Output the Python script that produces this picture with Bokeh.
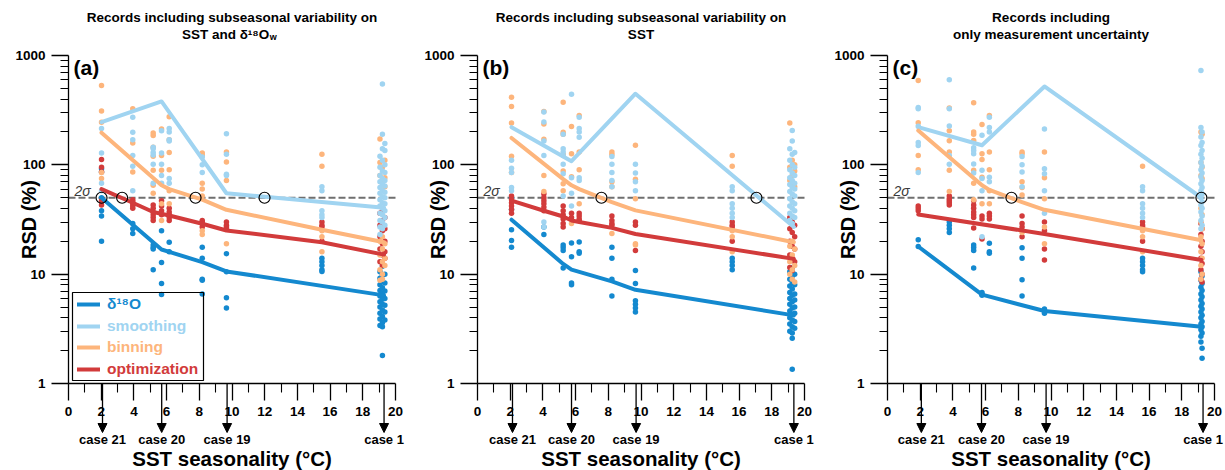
import math
from bokeh.plotting import figure
from bokeh.layouts import row
from bokeh.models import (Range1d, FixedTicker, NumeralTickFormatter, LinearAxis, LogAxis,
                          ColumnDataSource, Label, LabelSet, Arrow, NormalHead,
                          Legend, LegendItem, BoxAnnotation)
from bokeh.core.properties import value
from bokeh.embed import file_html
from bokeh.resources import INLINE

FONT = "Liberation Sans"

# ---------------- shared ticks / labels ----------------
X_TICKS = [0, 2, 4, 6, 8, 10, 12, 14, 16, 18, 20]
X_MINOR = [1, 3, 5, 7, 9, 11, 13, 15, 17, 19]
Y_TICKS = [1, 10, 100, 1000]
Y_MINOR = [2, 3, 4, 5, 6, 7, 8, 9, 20, 30, 40, 50, 60, 70, 80, 90,
           200, 300, 400, 500, 600, 700, 800, 900]
SERIES = ["δ¹⁸O", "smoothing", "binning", "optimization"]
CASE_LABELS = ["case 21", "case 20", "case 19", "case 1"]
TWO_SIGMA = 50

# ---------------- panel (a) ----------------
A_D18O = [(2.02, [92, 86, 50, 38, 34, 20]), (3.93, [29, 26, 23.5]),
          (5.18, [18.5, 17.5, 17, 11]), (5.69, [25, 12.8, 8.2, 6.5]),
          (6.16, [19.6, 16]), (8.18, [17.6, 14, 9, 8.8, 6.6]),
          (9.66, [15.4, 10.5, 6.1, 4.9]), (15.5, [14, 13, 12, 11, 10.6]),
          (19.05, [10.5, 9.2, 8.0, 7.1, 6.3, 5.6, 5.0, 4.4, 3.9, 3.4]),
          (19.2, [11.8, 9.8, 8.6, 7.5, 6.7, 5.9, 5.3, 4.7, 4.1, 3.6, 3.3, 1.8]),
          (19.35, [10.0, 8.3, 7.0, 6.0, 5.2, 4.5, 3.8])]
A_SMOOTH = [(2.02, [215, 128, 68, 58]), (3.93, [273, 199, 170, 122, 97, 58]),
            (5.18, [145, 140, 130, 123, 101, 68]), (5.69, [205, 128, 101, 80, 68]),
            (6.16, [215, 200, 170, 165, 75, 68]), (8.18, [118, 100, 85]),
            (9.66, [192, 125, 82, 80]), (15.5, [63, 58, 38, 35, 33]),
            (19.05, [120, 95, 80, 70, 62, 55, 48, 42, 36, 31, 27, 23]),
            (19.2, [550, 190, 140, 110, 88, 75, 66, 58, 51, 45, 40, 35, 30, 26]),
            (19.35, [157, 135, 100, 85, 72, 64, 56, 50, 44, 38, 33, 28])]
A_BIN = [(2.02, [532, 310, 245, 85, 75]), (3.93, [326, 158, 86]),
         (5.18, [195, 185, 145, 120, 89, 65, 55]), (5.69, [213, 122, 89, 44, 31]),
         (6.16, [276, 170, 130, 90, 58, 44]), (8.18, [128, 122, 68, 60, 52, 25, 23]),
         (9.66, [131, 106, 72, 19]), (15.5, [125, 97, 25, 22, 16]),
         (19.05, [172, 105, 80, 20, 15, 11, 8.8]),
         (19.2, [95, 70, 22, 17, 13, 10, 9]),
         (19.35, [110, 76, 63, 19, 14, 12])]
A_OPT = [(2.02, [112, 95, 86, 47, 43]), (3.93, [48, 46, 44, 42, 40]),
         (5.18, [43, 40, 37, 35, 33, 31]), (5.69, [47, 42, 38, 35]),
         (6.16, [40, 37, 35, 33, 31]), (8.18, [31, 30, 29, 27]),
         (9.66, [30, 28, 27, 26]), (15.5, [30, 28, 27, 20]),
         (19.05, [36, 28, 22, 17, 13]), (19.2, [38, 31, 25, 19, 15, 12]),
         (19.35, [33, 26, 20, 16, 14])]
A_LINE_D18O_X = [2.02, 5.69, 6.16, 8.18, 9.66, 19.3]
A_LINE_D18O_Y = [50, 16.8, 16, 12.9, 10.6, 6.4]
A_LINE_SMOOTH_X = [2.02, 5.69, 9.66, 19.3]
A_LINE_SMOOTH_Y = [246, 380, 55, 40.5]
A_LINE_BIN_X = [2.02, 5.69, 6.16, 8.18, 9.66, 15.5, 19.3]
A_LINE_BIN_Y = [197, 65, 60, 48, 38.8, 25.5, 19.6]
A_LINE_OPT_X = [2.02, 3.93, 5.18, 6.16, 8.18, 9.66, 15.5, 19.3]
A_LINE_OPT_Y = [60, 45, 37, 34.4, 28.9, 25.1, 19.6, 15.1]
A_CIRCLE_X = [2.02, 3.28, 7.77, 11.99]
A_CIRCLE_Y = [50, 50, 50, 50]
A_CASE_X = [2.08, 5.7, 9.7, 19.3]

# ---------------- panel (b) ----------------
B_D18O = [(2.08, [50, 39, 25.5, 20.3, 17.6]), (4.06, [27, 23]),
          (5.24, [18.5, 17.5, 16.5, 11.4]), (5.75, [19.3, 14.4, 8.3, 8.0]),
          (6.22, [19.7, 16, 15.5]), (8.22, [17.6, 14, 9, 6.3]),
          (9.66, [10.8, 8.2, 5.7, 5.3, 4.9, 4.5]), (15.58, [14, 13, 12, 11]),
          (19.1, [10.5, 9.0, 7.8, 6.8, 6.0, 5.3, 4.6, 4.0, 3.5, 3.0]),
          (19.25, [11.5, 9.6, 8.4, 7.3, 6.4, 5.6, 4.9, 4.3, 3.8, 3.3, 2.9, 2.6, 1.35]),
          (19.4, [10.0, 8.0, 6.6, 5.8, 5.0, 4.4, 3.7, 3.2])]
B_SMOOTH = [(2.08, [110, 93, 85, 62, 58]), (4.06, [304, 246, 165, 122, 30, 27]),
            (5.24, [190, 140, 131, 122, 101, 83, 52]), (5.75, [441, 76, 55, 42]),
            (6.22, [273, 215, 200, 179, 76, 72]), (8.22, [119, 101, 85, 72, 63]),
            (9.66, [101, 84, 70, 58]), (15.58, [63, 58, 44, 40, 36, 33]),
            (19.1, [140, 110, 90, 76, 66, 57, 49, 42, 36, 31]),
            (19.25, [206, 165, 125, 100, 84, 72, 62, 54, 46, 40, 34, 29]),
            (19.4, [130, 95, 80, 68, 60, 52, 44, 38, 33])]
B_BIN = [(2.08, [416, 342, 241, 120, 85]), (4.06, [308, 236, 171, 80, 57]),
         (5.24, [373, 199, 190, 124, 88, 67, 58]), (5.75, [224, 126, 78, 29]),
         (6.22, [283, 131, 90, 44]), (8.22, [131, 124, 70, 63, 23.6]),
         (9.66, [151, 74, 49, 19, 18.5]), (15.58, [122, 97, 25, 22, 16]),
         (19.1, [241, 95, 72, 18, 13, 10]), (19.25, [110, 80, 65, 20, 15, 11, 9]),
         (19.4, [100, 88, 63, 17, 12, 8.5])]
B_OPT = [(2.08, [52, 48, 45, 42, 39, 36]), (4.06, [54, 50, 47, 44, 41, 38]),
         (5.24, [42, 38, 35, 32, 29, 27]), (5.75, [36, 33]),
         (6.22, [36, 34, 32, 31]), (8.22, [34, 31, 29, 28]),
         (9.66, [30, 28, 16.5]), (15.58, [30, 28, 27, 20]),
         (19.1, [33, 26, 20, 15, 11.5]), (19.25, [30, 24, 18, 14, 10.8]),
         (19.4, [28, 22, 17, 13])]
B_LINE_D18O_X = [2.08, 5.24, 5.75, 8.22, 9.66, 19.35]
B_LINE_D18O_Y = [31.5, 12.4, 11, 8.6, 7.2, 4.2]
B_LINE_SMOOTH_X = [2.08, 5.75, 9.66, 19.35]
B_LINE_SMOOTH_Y = [221, 108, 447, 27]
B_LINE_BIN_X = [2.08, 5.24, 5.75, 6.22, 8.22, 9.66, 19.35]
B_LINE_BIN_Y = [176, 74, 65, 60, 45.5, 38.3, 19.6]
B_LINE_OPT_X = [2.08, 4.06, 5.24, 5.75, 6.22, 8.22, 9.66, 19.35]
B_LINE_OPT_Y = [47, 38, 33.7, 31, 30, 26.5, 23.3, 13.8]
B_CIRCLE_X = [7.58, 17.06]
B_CIRCLE_Y = [50, 50]
B_CASE_X = [2.14, 5.75, 9.7, 19.35]

# ---------------- panel (c) ----------------
C_D18O = [(1.88, [20.6, 17.9]), (3.78, [30, 28, 26, 24]),
          (5.27, [18.5, 17.5, 16.5, 11.4]), (5.78, [6.8, 6.5, 6.4]),
          (6.23, [19.2, 16, 15.5]), (8.23, [17.4, 14, 8.9, 6.3]),
          (9.6, [4.8, 4.6, 4.4]), (15.6, [14, 13, 12, 11, 10.5]),
          (19.17, [10.5, 8.8, 7.6, 6.6, 5.8, 5.1, 4.5, 4.0, 3.5, 3.1, 2.7, 2.4]),
          (19.24, [9.6, 8.2, 7.1, 6.2, 5.4, 4.8, 4.2, 3.7, 3.3, 2.9, 2.1, 1.7])]
C_SMOOTH = [(1.88, [335, 325, 225, 160, 150, 85]), (3.78, [600, 325, 226, 122, 101]),
            (5.27, [143, 135, 126, 102, 84]), (5.78, [186, 89, 75, 58, 22]),
            (6.23, [273, 220, 200, 77, 70]), (8.23, [119, 100, 86, 63]),
            (9.6, [213, 92, 83, 58, 36]), (15.6, [63, 58, 44, 40, 36, 33]),
            (19.17, [731, 220, 180, 150, 125, 105, 90, 78, 67, 58, 50, 43, 37, 31, 26]),
            (19.24, [200, 160, 135, 115, 97, 84, 72, 62, 54, 46, 40, 34, 28])]
C_BIN = [(1.88, [592, 242, 122, 90]), (3.78, [331, 205, 166, 131, 89, 57]),
         (5.27, [370, 200, 190, 167, 89, 68, 48]), (5.78, [234, 126, 112, 77, 44]),
         (6.23, [283, 131, 90, 58, 44]), (8.23, [131, 126, 70, 62, 53, 24]),
         (9.6, [131, 76, 49, 27, 19]), (15.6, [97, 25, 22, 16]),
         (19.17, [200, 105, 80, 40, 30, 22, 16, 12, 9]),
         (19.24, [190, 95, 75, 35, 26, 19, 14, 10])]
C_OPT = [(1.88, [42, 40, 38]), (3.78, [52, 49, 47, 45, 43]),
         (5.27, [47, 43, 40, 37, 35, 33, 26.5]), (5.78, [34, 32, 21]),
         (6.23, [36, 34, 32]), (8.23, [34, 29, 27, 22]),
         (9.6, [30, 25, 17, 13.5]), (15.6, [30, 28, 27, 20]),
         (19.17, [29, 23, 18, 14, 11, 9]), (19.24, [26, 20, 16, 12.5, 10, 8.5])]
C_LINE_D18O_X = [1.88, 5.78, 9.6, 19.2]
C_LINE_D18O_Y = [17.9, 6.5, 4.6, 3.3]
C_LINE_SMOOTH_X = [1.88, 5.78, 9.6, 19.2]
C_LINE_SMOOTH_Y = [221, 151, 521, 50]
C_LINE_BIN_X = [1.88, 5.78, 6.23, 8.23, 9.6, 19.2]
C_LINE_BIN_Y = [206, 65, 59, 45.5, 38.8, 20.4]
C_LINE_OPT_X = [1.88, 9.6, 19.2]
C_LINE_OPT_Y = [35.2, 23.3, 13.5]
C_CIRCLE_X = [7.58, 19.2]
C_CIRCLE_Y = [50, 50]
C_CASE_X = [2.07, 5.75, 9.7, 19.3]

# ---------------- style / geometry ----------------
COL_D18O = "#1489cf"
COL_SMOOTH = "#a0d4f1"
COL_BIN = "#fdb57c"
COL_OPT = "#d23b3b"
COLORS = [COL_D18O, COL_SMOOTH, COL_BIN, COL_OPT]

H = 470                 # canvas height
AX_LEFT_PX = 68         # x=0 position inside each canvas
AX_BOTTOM_PX = 383      # y=1 position inside each canvas
PX_PER_X = 327 / 20.0
PX_PER_DECADE = 328 / 3.0
X_BOUNDS = (0, 20)
Y_BOUNDS = (1, 1000)
LABEL_SHIFT_EM = 0.3    # Label baseline correction


def dx(px):
    """canvas x pixel -> data x"""
    return (px - AX_LEFT_PX) / PX_PER_X


def dy(py):
    """canvas y pixel (from top) -> data y (log)"""
    return 10 ** ((AX_BOTTOM_PX - py) / PX_PER_DECADE)


def base(py, size):
    """data y for a Label whose visual baseline should sit at canvas pixel py"""
    return dy(py - LABEL_SHIFT_EM * size)


def flatten(groups):
    xs, ys = [], []
    for x, vals in groups:
        xs += [x] * len(vals)
        ys += list(vals)
    return xs, ys


def style_axis(ax, minor):
    ax.major_tick_out = 17
    ax.major_tick_in = 0
    ax.minor_tick_out = minor
    ax.minor_tick_in = 0
    ax.axis_line_width = 1.3
    ax.major_tick_line_width = 1.3
    ax.minor_tick_line_width = 1.1
    ax.axis_line_color = "black"
    ax.major_tick_line_color = "black"
    ax.minor_tick_line_color = "black"
    ax.major_label_text_font = FONT
    ax.major_label_text_font_size = "13.5px"
    ax.major_label_text_font_style = "bold"
    ax.major_label_text_color = "black"
    ax.major_label_standoff = 6


def make_panel(letter, title1, title2, scat, lines, circ_x, circ_y, case_x,
               width, legend=False, sub_w=False):
    p = figure(width=width, height=H,
               x_range=Range1d(dx(0), dx(width)), y_range=Range1d(dy(H), dy(0)),
               y_axis_type="log", x_axis_location=None, y_axis_location=None,
               output_backend="svg", toolbar_location=None,
               min_border=0)
    p.outline_line_color = None
    p.grid.visible = False

    # axes, pinned to x=0 / y=1
    xaxis = LinearAxis(fixed_location=Y_BOUNDS[0], bounds=X_BOUNDS,
                       ticker=FixedTicker(ticks=X_TICKS, minor_ticks=X_MINOR))
    style_axis(xaxis, 9)
    p.add_layout(xaxis, "below")
    yaxis = LogAxis(fixed_location=X_BOUNDS[0], bounds=Y_BOUNDS,
                    ticker=FixedTicker(ticks=Y_TICKS, minor_ticks=Y_MINOR),
                    formatter=NumeralTickFormatter(format="0"))
    style_axis(yaxis, 8)
    p.add_layout(yaxis, "left")

    # 2 sigma reference line
    p.line([X_BOUNDS[0], X_BOUNDS[1] + 0.1], [TWO_SIGMA, TWO_SIGMA],
           line_color="#6f6f6f", line_dash="7 3", line_width=2)

    # scatter (draw order: d18O, optimization, binning, smoothing)
    for idx in (0, 3, 2, 1):
        xs, ys = flatten(scat[idx])
        p.scatter(xs, ys, size=5.5, fill_color=COLORS[idx], line_color=None)

    # lines
    rends = [None] * 4
    for idx in (1, 2, 3, 0):
        lx, ly = lines[idx]
        rends[idx] = p.line(lx, ly, line_width=4, line_color=COLORS[idx],
                            line_join="round", line_cap="round")

    # crossing circles
    p.scatter(circ_x, circ_y, marker="circle", size=11, fill_color=None,
              line_color="black", line_width=1.2)

    # case arrows and labels
    src = ColumnDataSource(dict(x=case_x, y0=[Y_BOUNDS[0]] * len(case_x),
                                y1=[dy(432)] * len(case_x),
                                yl=[dy(443)] * len(case_x), t=CASE_LABELS))
    p.add_layout(Arrow(source=src, x_start="x", y_start="y0", x_end="x", y_end="y1",
                       line_width=1.3, line_color="black",
                       end=NormalHead(size=9, fill_color="black", line_color="black",
                                      line_width=1)))
    p.add_layout(LabelSet(source=src, x="x", y="yl", text="t", text_font=value(FONT),
                          text_font_size="13px", text_font_style="bold",
                          text_align="center", text_baseline="alphabetic",
                          text_color="black"))

    common = dict(text_font=FONT, text_font_style="bold", text_color="black")
    # panel letter and 2 sigma tag
    p.add_layout(Label(x=dx(73), y=base(73.6, 21), text=f"({letter})",
                       text_font_size="21px", text_baseline="alphabetic", **common))
    p.add_layout(Label(x=dx(74), y=base(195, 14), text="2σ", text_font=FONT,
                       text_font_size="14px", text_font_style="italic",
                       text_baseline="alphabetic", text_color="#3a3a3a"))
    # titles
    p.add_layout(Label(x=dx(231.5), y=base(20.7, 13.5), text=title1,
                       text_font_size="13.5px", text_align="center",
                       text_baseline="alphabetic", **common))
    if sub_w:
        p.add_layout(Label(x=dx(268.7), y=base(37.7, 13.5), text=title2,
                           text_font_size="13.5px", text_align="right",
                           text_baseline="alphabetic", **common))
        p.add_layout(Label(x=dx(269.2), y=base(39.2, 9), text="w", text_font_size="9px",
                           text_align="left", text_baseline="alphabetic", **common))
    else:
        p.add_layout(Label(x=dx(231.5), y=base(37.7, 13.5), text=title2,
                           text_font_size="13.5px", text_align="center",
                           text_baseline="alphabetic", **common))
    # axis titles
    p.add_layout(Label(x=dx(28), y=dy(219), text="RSD (%)", angle=math.pi / 2,
                       text_font_size="20px", text_align="center",
                       text_baseline="middle", **common))
    p.add_layout(Label(x=dx(231.5), y=base(464, 20.5), text="SST seasonality (°C)",
                       text_font_size="20.5px", text_align="center",
                       text_baseline="alphabetic", **common))

    if legend:
        p.add_layout(BoxAnnotation(left=dx(72), right=dx(203), bottom=dy(380),
                                   top=dy(292), fill_alpha=0, line_color="black",
                                   line_alpha=1, line_width=1.2))
        for name, r, col, cy in zip(SERIES, rends, COLORS, [304, 326, 347, 369]):
            lg = Legend(items=[LegendItem(label=name, renderers=[r])],
                        location=(AX_LEFT_PX + 9, H - cy - 10), padding=0, margin=0,
                        spacing=0, border_line_color=None, background_fill_alpha=0,
                        glyph_width=23, glyph_height=20, label_height=20,
                        label_standoff=7, label_text_font=FONT,
                        label_text_font_size="15.5px", label_text_font_style="bold",
                        label_text_color=col)
            p.add_layout(lg, "center")
    return p


pa = make_panel("a", "Records including subseasonal variability on", "SST and δ¹⁸O",
                [A_D18O, A_SMOOTH, A_BIN, A_OPT],
                [(A_LINE_D18O_X, A_LINE_D18O_Y), (A_LINE_SMOOTH_X, A_LINE_SMOOTH_Y),
                 (A_LINE_BIN_X, A_LINE_BIN_Y), (A_LINE_OPT_X, A_LINE_OPT_Y)],
                A_CIRCLE_X, A_CIRCLE_Y, A_CASE_X, 409, legend=True, sub_w=True)
pb = make_panel("b", "Records including subseasonal variability on", "SST",
                [B_D18O, B_SMOOTH, B_BIN, B_OPT],
                [(B_LINE_D18O_X, B_LINE_D18O_Y), (B_LINE_SMOOTH_X, B_LINE_SMOOTH_Y),
                 (B_LINE_BIN_X, B_LINE_BIN_Y), (B_LINE_OPT_X, B_LINE_OPT_Y)],
                B_CIRCLE_X, B_CIRCLE_Y, B_CASE_X, 410)
pc = make_panel("c", "Records including", "only measurement uncertainty",
                [C_D18O, C_SMOOTH, C_BIN, C_OPT],
                [(C_LINE_D18O_X, C_LINE_D18O_Y), (C_LINE_SMOOTH_X, C_LINE_SMOOTH_Y),
                 (C_LINE_BIN_X, C_LINE_BIN_Y), (C_LINE_OPT_X, C_LINE_OPT_Y)],
                C_CIRCLE_X, C_CIRCLE_Y, C_CASE_X, 406)

layout = row(pa, pb, pc)
open("out.html", "w").write(file_html(layout, INLINE))
